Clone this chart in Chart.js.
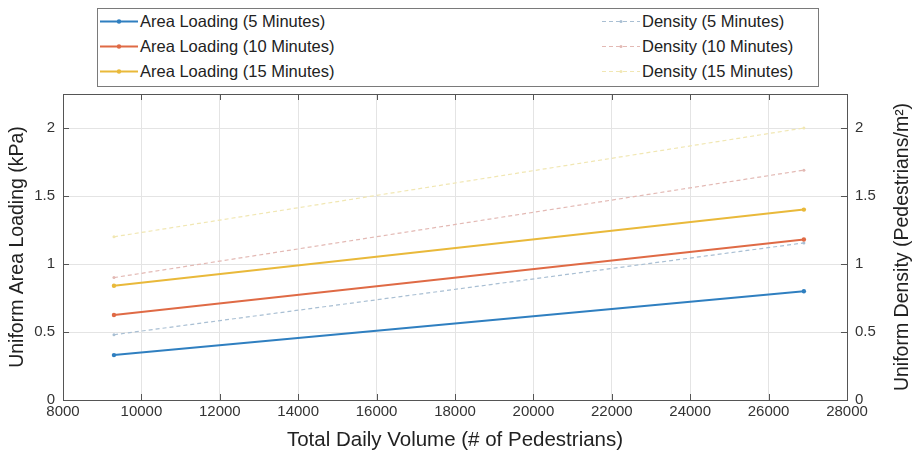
<!DOCTYPE html>
<html>
<head>
<meta charset="utf-8">
<script src="https://cdn.jsdelivr.net/npm/chart.js@4.4.1/dist/chart.umd.min.js"></script>
<style>
  html, body { margin: 0; padding: 0; background: #fff; }
  #wrap { position: relative; width: 916px; height: 457px; }
  #legenda {
    position: absolute; left: 97px; top: 8px; width: 722px; height: 79px;
    border: 1px solid #7a7a7a; box-sizing: border-box; background: #fff;
    font-family: "Liberation Sans", Arial, sans-serif; font-size: 16.5px; color: #222;
  }
  .kalem { position: absolute; height: 22px; line-height: 22px; white-space: nowrap; }
  .kalem canvas { position: absolute; top: 0; left: 0; }
  .kalem span { position: absolute; top: 0; }
</style>
</head>
<body>
<div id="wrap">
  <canvas id="grafik" width="916" height="457"></canvas>
  <div id="legenda"></div>
</div>
<script>
// x degerleri (gunluk toplam yaya)
const hacim = [9300, 26900];

// sol eksen: alan yuklemesi (kPa)
const yuk5 = [0.33, 0.80];
const yuk10 = [0.625, 1.18];
const yuk15 = [0.84, 1.40];

// sag eksen: yogunluk (yaya/m2)
const yog5 = [0.48, 1.155];
const yog10 = [0.90, 1.69];
const yog15 = [1.20, 2.00];

const seriAdlari = [
  "Area Loading (5 Minutes)", "Area Loading (10 Minutes)", "Area Loading (15 Minutes)",
  "Density (5 Minutes)", "Density (10 Minutes)", "Density (15 Minutes)"
];
const xTikler = [8000, 10000, 12000, 14000, 16000, 18000, 20000, 22000, 24000, 26000, 28000];
const yTikler = [0, 0.5, 1, 1.5, 2];

const yazi = '"Liberation Sans", Arial, sans-serif';

const noktala = (dizi) => hacim.map((x, i) => ({ x: x, y: dizi[i] }));

const seri = (ad, veri, renk, eksen, kesik) => ({
  label: ad,
  data: noktala(veri),
  yAxisID: eksen,
  borderColor: renk,
  backgroundColor: renk,
  borderWidth: kesik ? 1.2 : 2,
  borderDash: kesik ? [4, 3] : [],
  pointRadius: kesik ? 1.5 : 2.2,
  pointBorderWidth: 0,
  tension: 0
});

const setler = [
  seri(seriAdlari[0], yuk5, "#2f7fc0", "ySol", false),
  seri(seriAdlari[1], yuk10, "#df6a45", "ySol", false),
  seri(seriAdlari[2], yuk15, "#e9b93a", "ySol", false),
  seri(seriAdlari[3], yog5, "#a9bfd3", "ySag", true),
  seri(seriAdlari[4], yog10, "#e3b9b4", "ySag", true),
  seri(seriAdlari[5], yog15, "#f1e7b3", "ySag", true)
];

// cizim alanina cerceve ve sag eksen basligi
const cerceve = {
  id: "cerceve",
  afterDraw(chart) {
    const { ctx, chartArea: a } = chart;
    ctx.save();
    ctx.strokeStyle = "#555";
    ctx.lineWidth = 1;
    ctx.strokeRect(a.left + 0.5, a.top + 0.5, a.right - a.left, a.bottom - a.top);
    // ice dogru tik isaretleri
    ctx.beginPath();
    xTikler.forEach(t => {
      const px = Math.round(chart.scales.x.getPixelForValue(t)) + 0.5;
      ctx.moveTo(px, a.bottom); ctx.lineTo(px, a.bottom - 6);
      ctx.moveTo(px, a.top); ctx.lineTo(px, a.top + 6);
    });
    yTikler.forEach(t => {
      const py = Math.round(chart.scales.ySol.getPixelForValue(t)) + 0.5;
      ctx.moveTo(a.left, py); ctx.lineTo(a.left + 6, py);
      ctx.moveTo(a.right, py); ctx.lineTo(a.right - 6, py);
    });
    ctx.stroke();
    // sag baslik, asagidan yukariya
    ctx.translate(903, (a.top + a.bottom) / 2);
    ctx.rotate(-Math.PI / 2);
    ctx.fillStyle = "#222";
    ctx.font = "19.5px " + yazi;
    ctx.textAlign = "center";
    ctx.textBaseline = "middle";
    ctx.fillText("Uniform Density (Pedestrians/m²)", 0, 0);
    ctx.restore();
  }
};

const tikYazi = { family: yazi, size: 15 };

new Chart(document.getElementById("grafik"), {
  type: "line",
  data: { datasets: setler },
  options: {
    responsive: false,
    animation: false,
    layout: { padding: { top: 94, right: 0, left: 0, bottom: 0 } },
    plugins: { legend: { display: false }, tooltip: { enabled: false } },
    scales: {
      x: {
        type: "linear", min: 8000, max: 28000,
        afterBuildTicks: (s) => { s.ticks = xTikler.map(v => ({ value: v })); },
        afterFit: (s) => { s.height = 57; },
        grid: { color: "#e4e4e4", drawTicks: false },
        border: { display: false },
        ticks: { color: "#333", font: tikYazi, padding: 3, maxRotation: 0, callback: v => String(v) },
        title: { display: true, text: "Total Daily Volume (# of Pedestrians)", color: "#222", font: { family: yazi, size: 20.5 }, padding: { top: 4 } }
      },
      ySol: {
        type: "linear", position: "left", min: 0, max: 2.25,
        afterBuildTicks: (s) => { s.ticks = yTikler.map(v => ({ value: v })); },
        afterFit: (s) => { s.width = 63; },
        grid: { color: "#e4e4e4", drawTicks: false },
        border: { display: false },
        ticks: { color: "#333", font: tikYazi, padding: 8, callback: v => String(v) },
        title: { display: true, text: "Uniform Area Loading (kPa)", color: "#222", font: { family: yazi, size: 19.5 }, padding: { top: 6, bottom: 0 } }
      },
      ySag: {
        type: "linear", position: "right", min: 0, max: 2.25,
        afterBuildTicks: (s) => { s.ticks = yTikler.map(v => ({ value: v })); },
        afterFit: (s) => { s.width = 69; },
        grid: { display: false, drawTicks: false },
        border: { display: false },
        ticks: { color: "#333", font: tikYazi, padding: 8, callback: v => String(v) }
      }
    }
  },
  plugins: [cerceve]
});

// legend kutusu, iki sutun
const legenda = document.getElementById("legenda");
setler.forEach((s, i) => {
  const sag = i >= 3;
  const satir = i % 3;
  const d = document.createElement("div");
  d.className = "kalem";
  d.style.left = (sag ? 504 : 2) + "px";
  d.style.top = (1 + satir * 25) + "px";
  const c = document.createElement("canvas");
  c.width = 40; c.height = 22;
  const g = c.getContext("2d");
  g.strokeStyle = s.borderColor;
  g.fillStyle = s.borderColor;
  g.lineWidth = s.borderWidth;
  g.setLineDash(s.borderDash);
  g.beginPath(); g.moveTo(0, 11.5); g.lineTo(38, 11.5); g.stroke();
  g.beginPath(); g.arc(19, 11.5, s.pointRadius, 0, Math.PI * 2); g.fill();
  d.appendChild(c);
  const sp = document.createElement("span");
  sp.style.left = "40px";
  sp.textContent = s.label;
  d.appendChild(sp);
  legenda.appendChild(d);
});
</script>
</body>
</html>
